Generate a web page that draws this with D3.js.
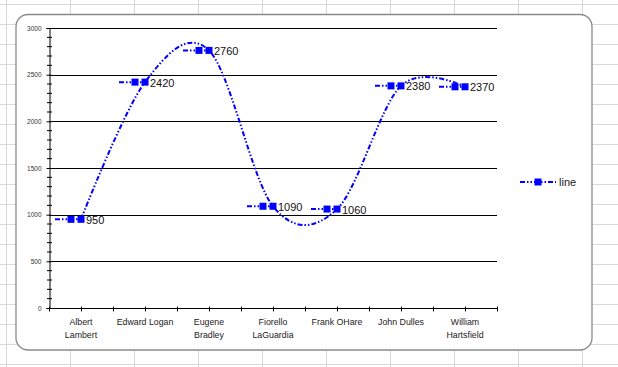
<!DOCTYPE html>
<html><head><meta charset="utf-8">
<script src="https://cdn.jsdelivr.net/npm/d3@7"></script>
<style>html,body{margin:0;padding:0;background:#fff;}svg{display:block;}</style>
</head><body>
<script>
const categories = [["Albert","Lambert"],["Edward Logan"],["Eugene","Bradley"],["Fiorello","LaGuardia"],["Frank OHare"],["John Dulles"],["William","Hartsfield"]];
const values = [950, 2420, 2760, 1090, 1060, 2380, 2370];
const yTicks = [0, 500, 1000, 1500, 2000, 2500, 3000];
const seriesName = "line";

const W = 618, H = 367;
const svg = d3.select("body").append("svg").attr("width", W).attr("height", H);
const font = "'Liberation Sans', Arial, sans-serif";
const blue = "#0000ff";
const dash = "5,2,1.5,2,1.5,2";

// spreadsheet grid background
const bg = svg.append("g");
for (let gx = 6.5; gx < W; gx += 64) bg.append("line").attr("x1", gx).attr("x2", gx).attr("y1", 0).attr("y2", H).attr("stroke", "#d9d9d9");
for (let gy = 4.5; gy < H; gy += 20) bg.append("line").attr("x1", 0).attr("x2", W).attr("y1", gy).attr("y2", gy).attr("stroke", "#d9d9d9");

// chart frame
svg.append("rect").attr("x", 16).attr("y", 14.5).attr("width", 576).attr("height", 335.5)
  .attr("rx", 12).attr("fill", "#fff").attr("stroke", "#8a8a8a").attr("stroke-width", 1.3);

const pLeft = 49, pRight = 497, pTop = 28, pBottom = 308;
const x = d3.scaleBand().domain(d3.range(categories.length)).range([pLeft, pRight]).paddingInner(0).paddingOuter(0);
const y = d3.scaleLinear().domain([0, 3000]).range([pBottom, pTop]);
const cx = i => x(i) + x.bandwidth() / 2;

// gridlines
svg.append("g").selectAll("line").data(yTicks.filter(d => d > 0)).join("line")
  .attr("x1", pLeft).attr("x2", pRight).attr("y1", d => Math.round(y(d)) + 0.5).attr("y2", d => Math.round(y(d)) + 0.5)
  .attr("stroke", "#000").attr("stroke-width", 1);

// y axis
const yAxis = svg.append("g").attr("transform", `translate(${pLeft + 0.5},0)`)
  .call(d3.axisLeft(y).tickValues(yTicks).tickSize(3).tickPadding(5).tickFormat(d3.format("d")));
yAxis.select(".domain").attr("stroke", "#000");
yAxis.selectAll(".tick line").attr("x2", 2).attr("x1", -3).attr("stroke", "#000");
yAxis.selectAll("text").attr("font-family", font).attr("font-size", 6.5).attr("fill", "#333");
svg.append("g").selectAll("line").data(d3.range(0, 3001, 100).filter(d => d % 500 !== 0)).join("line")
  .attr("x1", pLeft - 2).attr("x2", pLeft + 3).attr("y1", d => y(d)).attr("y2", d => y(d)).attr("stroke", "#000");

// x axis
const xAxisG = svg.append("g").attr("transform", `translate(0,${pBottom + 0.5})`);
xAxisG.append("line").attr("x1", pLeft).attr("x2", pRight + 1).attr("stroke", "#000");
const tickPos = [];
categories.forEach((c, i) => { tickPos.push(x(i)); tickPos.push(cx(i)); });
tickPos.push(pRight);
xAxisG.selectAll(".t").data(tickPos).join("line").attr("class", "t")
  .attr("x1", d => Math.round(d) + 0.5).attr("x2", d => Math.round(d) + 0.5).attr("y1", -2).attr("y2", 3).attr("stroke", "#000");
const xl = svg.append("g").selectAll("text").data(categories).join("text")
  .attr("font-family", font).attr("font-size", 8.8).attr("fill", "#222").attr("text-anchor", "middle");
xl.each(function(d, i) {
  d3.select(this).selectAll("tspan").data(d).join("tspan")
    .attr("x", cx(i)).attr("y", (t, j) => 325 + j * 13).text(t => t);
});

// smooth curve
const line = d3.line().x((d, i) => cx(i)).y(d => y(d)).curve(d3.curveCardinal.tension(0));
svg.append("path").datum(values).attr("d", line).attr("fill", "none")
  .attr("stroke", blue).attr("stroke-width", 2).attr("stroke-dasharray", dash);

// points with legend keys + labels
const pts = svg.append("g").selectAll("g").data(values).join("g")
  .attr("transform", (d, i) => `translate(${cx(i)},${y(d)})`);
pts.append("line").attr("x1", -26).attr("x2", 0).attr("stroke", blue).attr("stroke-width", 2).attr("stroke-dasharray", dash);
pts.append("rect").attr("x", -13.5).attr("y", -3.5).attr("width", 7).attr("height", 7).attr("fill", blue);
pts.append("rect").attr("x", -3.5).attr("y", -3.5).attr("width", 7).attr("height", 7).attr("fill", blue);
pts.append("text").attr("x", 5).attr("y", 4.5).attr("font-family", font).attr("font-size", 11).attr("fill", "#111").text(d => d);

// legend
const lg = svg.append("g").attr("transform", "translate(520,182)");
lg.append("line").attr("x1", 0).attr("x2", 36).attr("stroke", blue).attr("stroke-width", 2).attr("stroke-dasharray", dash);
lg.append("rect").attr("x", 14.5).attr("y", -3.5).attr("width", 7).attr("height", 7).attr("fill", blue);
lg.append("text").attr("x", 39).attr("y", 4).attr("font-family", font).attr("font-size", 11).attr("fill", "#222").text(seriesName);
</script>
</body></html>
